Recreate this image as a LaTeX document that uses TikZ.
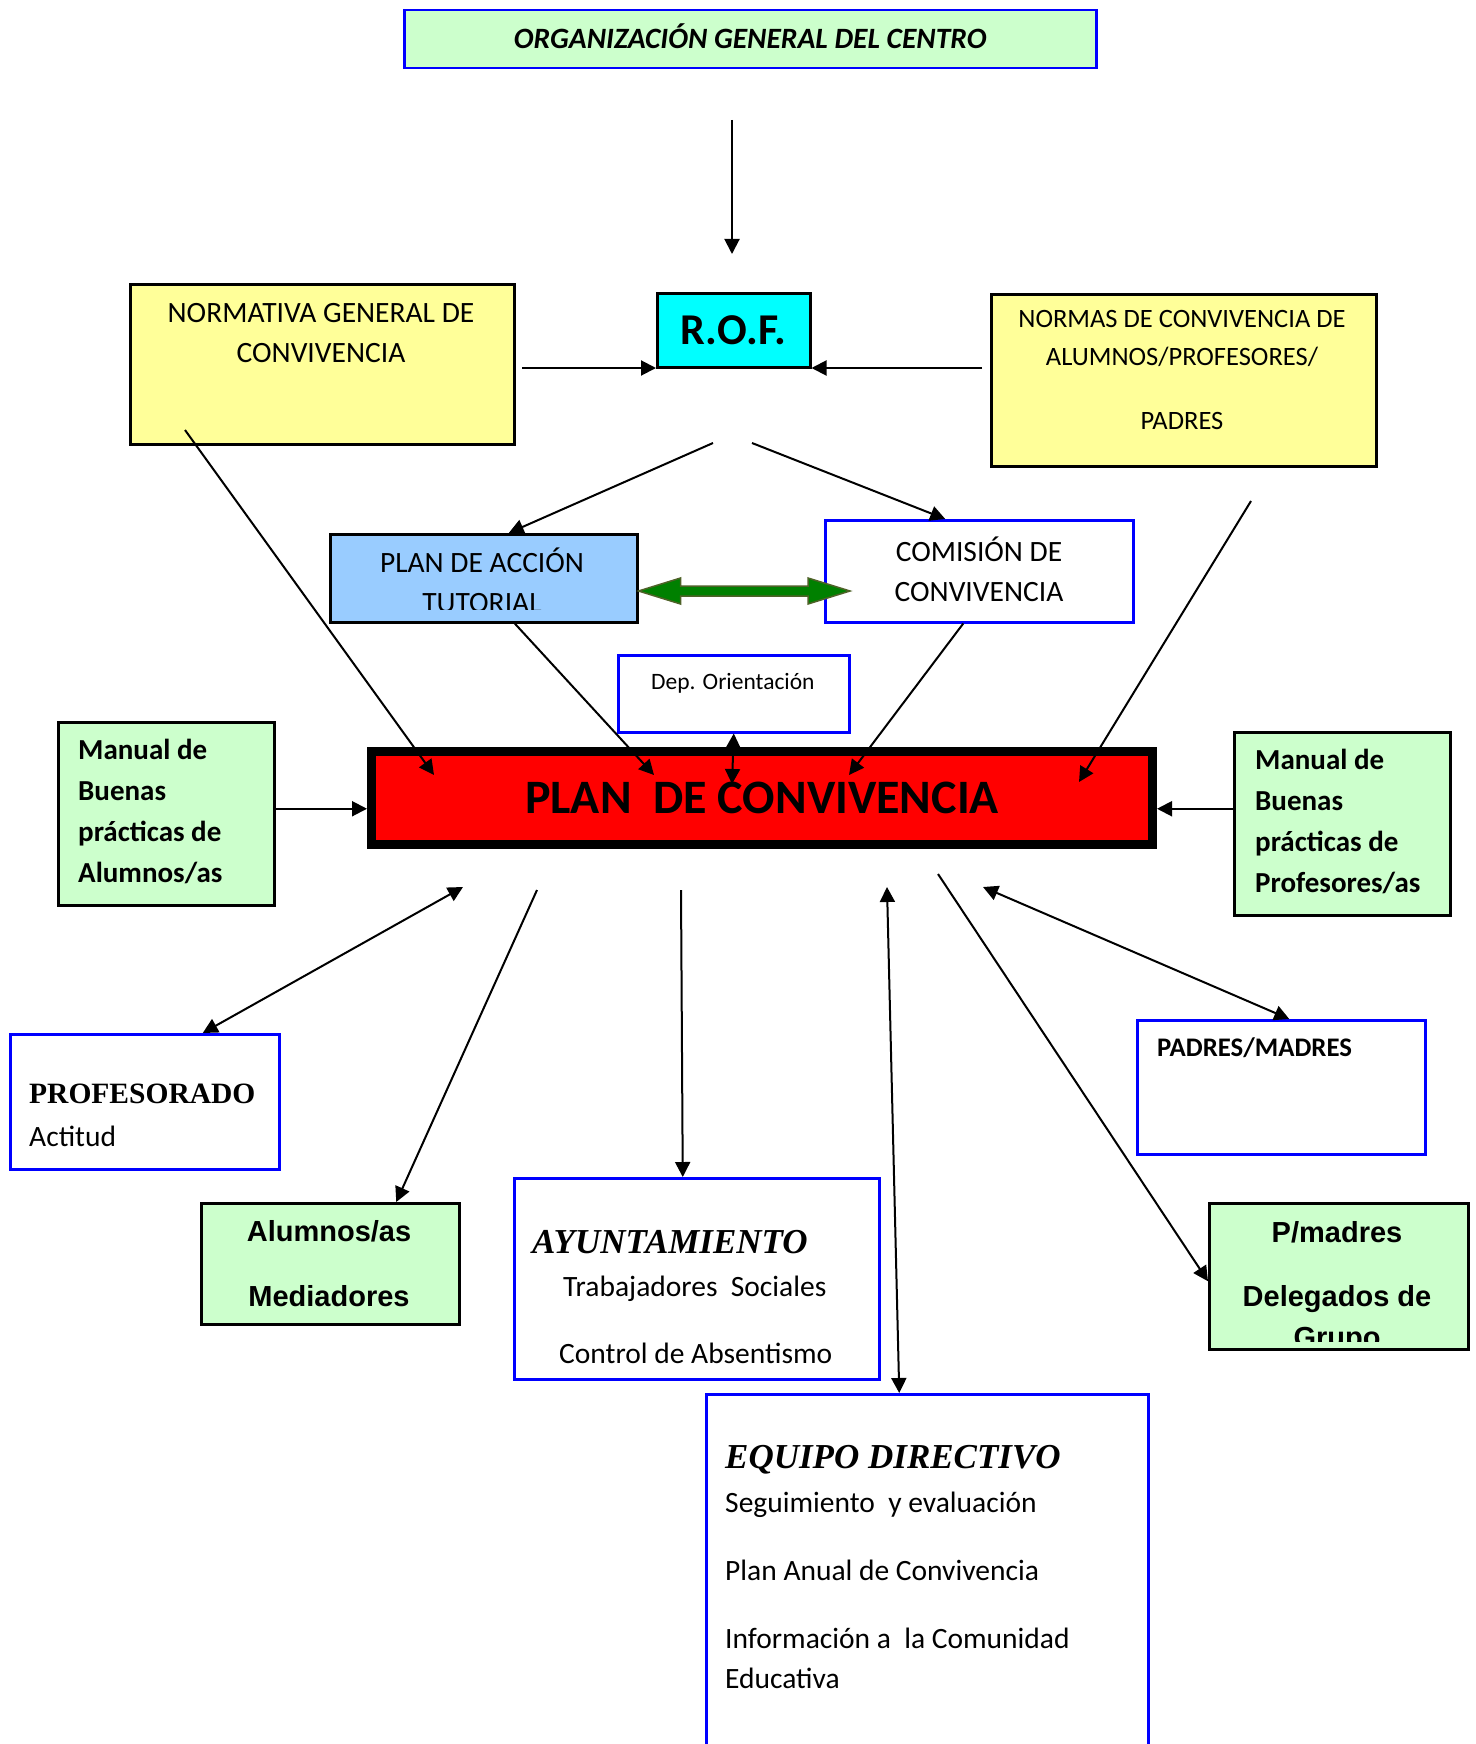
\documentclass[tikz,border=0pt]{standalone}
\usepackage{fontspec}
\setmainfont{Carlito}
\newfontfamily\timesfont{Liberation Serif}
\newfontfamily\arialfont{Liberation Sans}
\usetikzlibrary{arrows.meta, calc}

\definecolor{paleyellow}{HTML}{FFFF99}
\definecolor{palegreen}{HTML}{CCFFCC}
\definecolor{paleblue}{HTML}{99CCFF}
\definecolor{rofcyan}{HTML}{00FFFF}
\definecolor{darkolive}{HTML}{4F6228}
\definecolor{arrowgreen}{HTML}{008000}

\tikzset{
  yellowbox/.style={draw=black, fill=paleyellow, line width=2.5pt, anchor=north west, inner sep=0pt},
  greenbox/.style={draw=black, fill=palegreen, line width=2.5pt, anchor=north west, inner sep=0pt},
  bluebox/.style={draw=blue, fill=white, line width=2.5pt, anchor=north west, inner sep=0pt},
  txt/.style={inner sep=0pt, font=\fontsize{29.5}{40}\selectfont},
  link/.style={line width=2pt},
}

\begin{document}
\begin{tikzpicture}[x=1pt, y=-1pt, >={Triangle[length=15pt,width=15pt]}]
\useasboundingbox (0,0) rectangle (1475,1744);
\clip (0,0) rectangle (1475,1744);

% boxes
\node[bluebox, fill=palegreen, minimum width=692pt, minimum height=58pt,
  font=\fontsize{29.5}{34}\selectfont\bfseries\itshape, text height=19pt, text depth=0pt]
  (title) at (403,9) {ORGANIZACIÓN GENERAL DEL CENTRO};
\node[yellowbox, minimum width=384pt, minimum height=160pt] (normativa) at (129,283) {};
\node[draw=black, fill=rofcyan, line width=2.5pt, anchor=north west, inner sep=0pt,
  minimum width=153pt, minimum height=74pt,
  font=\fontsize{44}{50}\selectfont\bfseries, text height=28pt, text depth=0pt]
  (rof) at (656,292) {R.O.F.};
\node[yellowbox, minimum width=385pt, minimum height=172pt] (normas) at (990,293) {};
\node[draw=black, fill=paleblue, line width=2.5pt, anchor=north west, inner sep=0pt,
  minimum width=307pt, minimum height=88pt] (pat) at (329,533) {};
\node[bluebox, minimum width=308pt, minimum height=102pt] (comision) at (824,519) {};
\node[bluebox, minimum width=231pt, minimum height=77pt] (dep) at (617,654) {};
\node[draw=black, fill=red, line width=9pt, inner sep=0pt,
  minimum width=781pt, minimum height=93pt,
  font=\fontsize{48}{56}\selectfont\bfseries, text height=31pt, text depth=0pt]
  (plan) at (762,798) {PLAN~ DE CONVIVENCIA};
\node[greenbox, minimum width=216pt, minimum height=183pt] (manalu) at (57,721) {};
\node[greenbox, minimum width=216pt, minimum height=183pt] (manprof) at (1233,731) {};
\node[bluebox, minimum width=269pt, minimum height=135pt] (profes) at (9,1033) {};
\node[greenbox, minimum width=258pt, minimum height=121pt] (mediad) at (200,1202) {};
\node[bluebox, minimum width=365pt, minimum height=201pt] (ayto) at (513,1177) {};
\node[bluebox, minimum width=442pt, minimum height=380pt] (equipo) at (705,1393) {};
\node[bluebox, minimum width=288pt, minimum height=134pt] (padres) at (1136,1019) {};
\node[greenbox, minimum width=259pt, minimum height=146pt] (delegados) at (1208,1202) {};

% texts
\node[txt, anchor=north, align=center] (normativa-txt) at (321,294)
  {\strut NORMATIVA GENERAL DE\\CONVIVENCIA};
\node[txt, anchor=north, align=center, font=\fontsize{26.5}{38}\selectfont] (normas-txt) at (1182,301)
  {\strut NORMAS DE CONVIVENCIA DE\\ALUMNOS/PROFESORES/\\[26pt]PADRES};
\begin{scope}
\clip (329,533) rectangle (636,609);
\node[txt, anchor=north, align=center] (pat-txt) at (482,544) {\strut PLAN DE ACCIÓN\\TUTORIAL};
\end{scope}
\node[txt, anchor=north, align=center] (comision-txt) at (979,533) {\strut COMISIÓN DE\\CONVIVENCIA};
\node[txt, anchor=base west, font=\fontsize{23.5}{28}\selectfont] (dep-txt) at (651,689) {Dep. Orientación};
\node[txt, anchor=north west, align=left, font=\fontsize{29}{41}\selectfont\bfseries] (manalu-txt) at (78,731)
  {\strut Manual de\\Buenas\\prácticas de\\Alumnos/as};
\node[txt, anchor=north west, align=left, font=\fontsize{29}{41}\selectfont\bfseries] (manprof-txt) at (1255,741)
  {\strut Manual de\\Buenas\\prácticas de\\Profesores/as};
\node[txt, anchor=north west, align=left, font=\fontsize{29.5}{43}\selectfont] (profes-txt) at (29,1073)
  {\strut{\timesfont\bfseries\fontsize{29.5}{43}\selectfont PROFESORADO}\\Actitud};
\node[txt, anchor=north, align=center, font=\fontsize{29}{41}\selectfont\arialfont\bfseries] (mediad-txt) at (329,1213)
  {\strut Alumnos/as\\[24pt]Mediadores};
\node[txt, anchor=north west, align=left, font=\fontsize{29.5}{43}\selectfont] (ayto-txt) at (532,1223)
  {\strut{\timesfont\bfseries\itshape\fontsize{35}{43}\selectfont AYUNTAMIENTO}\\
   \hspace*{31pt}Trabajadores~ Sociales\\[24pt]\hspace*{27pt}Control de Absentismo};
\node[txt, anchor=north west, align=left] (equipo-txt) at (725,1440)
  {\strut{\timesfont\bfseries\itshape\fontsize{35}{40}\selectfont EQUIPO DIRECTIVO}\\[4pt]
   Seguimiento~ y evaluación\\[28pt]Plan Anual de Convivencia\\[28pt]
   Información a~ la Comunidad\\Educativa};
\node[txt, anchor=base west, font=\fontsize{26.8}{32}\selectfont\bfseries] (padres-txt) at (1157,1056) {PADRES/MADRES};
\begin{scope}
\clip (1209,1203) rectangle (1466,1341);
\node[txt, anchor=north, align=center, font=\fontsize{29}{41}\selectfont\arialfont\bfseries] (delegados-txt) at (1337,1214)
  {\strut P/madres\\[23pt]Delegados de\\Grupo};
\end{scope}

% free ends of the connectors
\coordinate (orgout) at (732,120);
\coordinate (rofin) at (732,254);
\coordinate (normout) at (522,368);
\coordinate (normasout) at (982,368);
\coordinate (rofl) at (713,443);
\coordinate (rofr) at (752,443);
\coordinate (normdown) at (185,430);
\coordinate (normasdown) at (1251,501);
\coordinate (plan-a) at (434,775);
\coordinate (plan-b) at (654,775);
\coordinate (plan-c) at (732,784);
\coordinate (plan-d) at (849,775);
\coordinate (plan-e) at (1079,782);
\coordinate (low-a) at (463,887);
\coordinate (low-b) at (537,890);
\coordinate (low-c) at (681,890);
\coordinate (low-d) at (887,887);
\coordinate (low-e) at (938,874);
\coordinate (low-f) at (983,887);
\coordinate (alu-out) at ([yshift=5pt]manalu.east);
\coordinate (prof-out) at ([yshift=15pt]manprof.west);

% connectors
\draw[link,->] (orgout) -- (rofin);
\draw[link,->] (normout) -- (normout -| rof.west);
\draw[link,->] (normasout) -- (normasout -| rof.east);
\draw[link,->] (rofl) -- ([xshift=25pt]pat.north);
\draw[link,->] (rofr) -- ([xshift=-34pt]comision.north);
\draw[link,->] (normdown) -- (plan-a);
\draw[link,->] ([xshift=31pt]pat.south) -- (plan-b);
\draw[link,<->] (dep.south) -- (plan-c);
\draw[link,->] ([xshift=-16pt]comision.south) -- (plan-d);
\draw[link,->] (normasdown) -- (plan-e);
\draw[link,->] (alu-out) -- (alu-out -| plan.west);
\draw[link,->] (prof-out) -- (prof-out -| plan.east);
\draw[link,<->] (low-a) -- ([xshift=58pt]profes.north);
\draw[link,->] (low-b) -- ([xshift=66pt]mediad.north);
\draw[link,->] (low-c) -- ([xshift=-14pt]ayto.north);
\draw[link,<->] (low-d) -- ([xshift=-28pt]equipo.north);
\draw[link,->] (low-e) -- ([yshift=-5pt]delegados.west);
\draw[link,<->] (low-f) -- ([xshift=8pt]padres.north);

% green double arrow
\coordinate (dbl-l) at (pat.east |- 0,591);
\coordinate (dbl-r) at (850,591);
\filldraw[fill=arrowgreen, draw=darkolive, line width=1.5pt]
  (dbl-l) -- ++(42,-13) -- ++(0,8) -- ($(dbl-r)+(-42,-5)$) -- ++(0,-8) -- (dbl-r)
  -- ++(-42,13) -- ++(0,-8) -- ($(dbl-l)+(42,5)$) -- ++(0,8) -- cycle;
\end{tikzpicture}
\end{document}
